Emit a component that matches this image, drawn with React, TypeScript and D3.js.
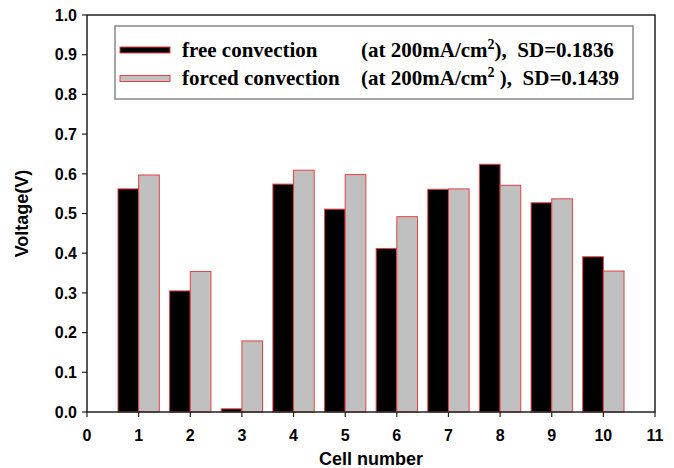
import React from "react";
import * as d3 from "d3";

const cells = [1, 2, 3, 4, 5, 6, 7, 8, 9, 10];
const freeConvection = [0.562, 0.305, 0.008, 0.574, 0.511, 0.412, 0.561, 0.624, 0.527, 0.391];
const forcedConvection = [0.597, 0.354, 0.179, 0.609, 0.598, 0.492, 0.562, 0.571, 0.537, 0.355];
const xTicks = [0, 1, 2, 3, 4, 5, 6, 7, 8, 9, 10, 11];
const yTicks = [0, 0.1, 0.2, 0.3, 0.4, 0.5, 0.6, 0.7, 0.8, 0.9, 1.0];
const seriesNames = ["free convection", "forced convection"];
const seriesSD = ["0.1836", "0.1439"];
const closeParen = [")", " )"];

const W = 674;
const H = 468;
const m = { left: 87, right: 19, top: 15, bottom: 56 };
const sans = "'Liberation Sans', Arial, sans-serif";
const serif = "'Liberation Serif', 'Times New Roman', serif";

export default function App() {
  const x = d3.scaleLinear().domain([0, 11]).range([m.left, W - m.right]);
  const y = d3.scaleLinear().domain([0, 1]).range([H - m.bottom, m.top]);
  const bw = x(0.4) - x(0);
  const y0 = y(0);

  const series = [
    { vals: freeConvection, fill: "#000000", off: -0.4 },
    { vals: forcedConvection, fill: "#c0c0c0", off: 0 },
  ];

  return (
    <svg width={W} height={H} style={{ position: "absolute", left: 0, top: 0 }}>
      <rect x={0} y={0} width={W} height={H} fill="#fff" />
      {series.map((s, si) =>
        cells.map((c, i) => (
          <rect
            key={si + "-" + c}
            x={x(c + s.off)}
            y={y(s.vals[i])}
            width={bw}
            height={y0 - y(s.vals[i])}
            fill={s.fill}
            stroke="#e84040"
            strokeWidth={1}
          />
        ))
      )}
      {/* frame */}
      <rect x={x(0)} y={y(1)} width={x(11) - x(0)} height={y0 - y(1)} fill="none" stroke="#222" strokeWidth={1.5} />
      {yTicks.map((t) => (
        <g key={"y" + t}>
          <line x1={x(0) - 5} x2={x(0)} y1={y(t)} y2={y(t)} stroke="#222" strokeWidth={1.2} />
          <text x={x(0) - 10} y={y(t)} dy="0.36em" textAnchor="end" fontFamily={sans} fontWeight="bold" fontSize={16}>
            {t.toFixed(1)}
          </text>
        </g>
      ))}
      {xTicks.map((t) => (
        <g key={"x" + t}>
          <line x1={x(t)} x2={x(t)} y1={y0} y2={y0 + 5} stroke="#222" strokeWidth={1.2} />
          <text x={x(t)} y={y0 + 23} dy="0.36em" textAnchor="middle" fontFamily={sans} fontWeight="bold" fontSize={16}>
            {t}
          </text>
        </g>
      ))}
      <text x={(x(0) + x(11)) / 2} y={465} textAnchor="middle" fontFamily={sans} fontWeight="bold" fontSize={18}>
        Cell number
      </text>
      <text
        transform={`translate(22,${(y(0) + y(1)) / 2}) rotate(-90)`}
        dy="0.36em"
        textAnchor="middle"
        fontFamily={sans}
        fontWeight="bold"
        fontSize={18}
      >
        Voltage(V)
      </text>
      {/* legend */}
      <rect x={115} y={26} width={518} height={73} fill="#fff" stroke="#888" strokeWidth={1.5} />
      {seriesNames.map((name, i) => {
        const cy = 50 + i * 28.5;
        return (
          <g key={name}>
            <rect x={120} y={cy - 3} width={50} height={6} fill={series[i].fill} stroke="#e84040" strokeWidth={1} />
            <text x={182} y={cy} dy="0.33em" fontFamily={serif} fontWeight="bold" fontSize={21}>
              {name}
            </text>
            <text x={361} y={cy} dy="0.33em" fontFamily={serif} fontWeight="bold" fontSize={21} style={{ whiteSpace: "pre" }}>
              (at 200mA/cm
              <tspan fontSize={14} dy="-0.6em">2</tspan>
              <tspan dy="0.4em">{closeParen[i] + ",  SD=" + seriesSD[i]}</tspan>
            </text>
          </g>
        );
      })}
    </svg>
  );
}
